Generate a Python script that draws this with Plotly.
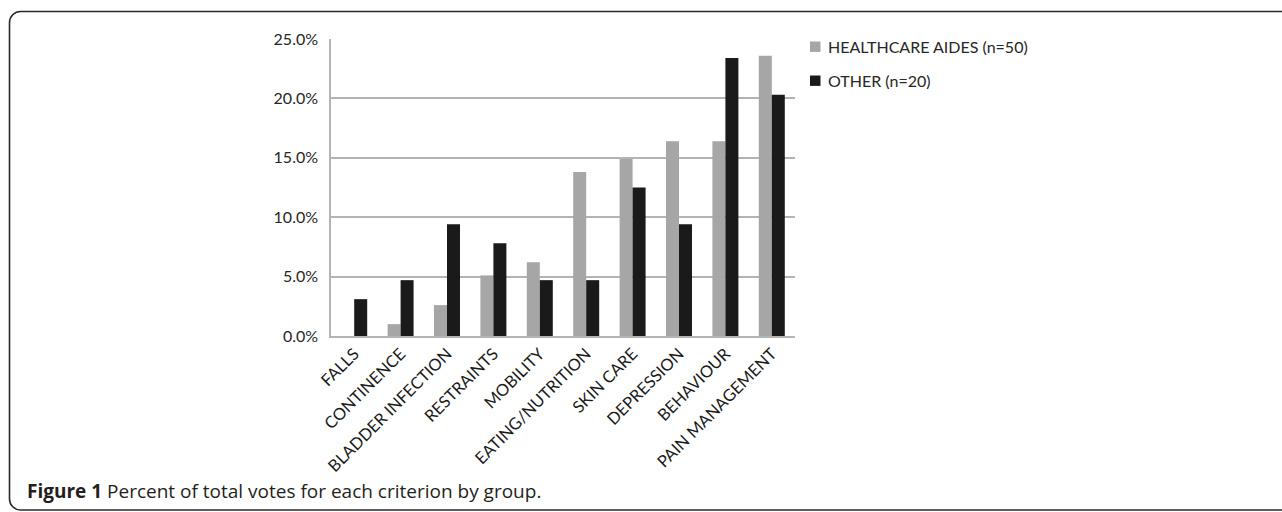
import plotly.graph_objects as go

# Criteria and the share of votes each group gave them (percent)
criteria = ["FALLS", "CONTINENCE", "BLADDER INFECTION", "RESTRAINTS", "MOBILITY",
            "EATING/NUTRITION", "SKIN CARE", "DEPRESSION", "BEHAVIOUR", "PAIN MANAGEMENT"]
healthcare_aides = [0.0, 1.0, 2.6, 5.1, 6.2, 13.8, 14.9, 16.4, 16.4, 23.6]
other_staff = [3.1, 4.7, 9.4, 7.8, 4.7, 4.7, 12.5, 9.4, 23.4, 20.3]
series_names = ["HEALTHCARE AIDES (n=50)", "OTHER (n=20)"]
series_colors = ["#a6a6a6", "#1a1a1a"]
y_ticks = [0, 5, 10, 15, 20, 25]
y_tick_labels = ["0.0%", "5.0%", "10.0%", "15.0%", "20.0%", "25.0%"]
caption_bold = "Figure 1"
caption_text = "Percent of total votes for each criterion by group."

W, H = 1282, 512
L, R, T, B = 331, 795, 39, 336  # plot area in pixels

def px(x):
    return (x - L) / (R - L)

def py(y):
    return (B - y) / (B - T)

font_main = "Lato, 'Open Sans', sans-serif"

fig = go.Figure()
for name, vals, color in zip(series_names, [healthcare_aides, other_staff], series_colors):
    fig.add_trace(go.Bar(x=criteria, y=vals, name=name,
                         marker=dict(color=color, line=dict(width=0))))

# Rounded frame around the figure and its caption
x0, x1, y0, y1, r = 9.5, 1300, 11.5, 510, 11
k = 0.45
path = (f"M {px(x0)},{py(y0 + r)} "
        f"C {px(x0)},{py(y0 + r * k)} {px(x0 + r * k)},{py(y0)} {px(x0 + r)},{py(y0)} "
        f"L {px(x1)},{py(y0)} L {px(x1)},{py(y1)} "
        f"L {px(x0 + r)},{py(y1)} "
        f"C {px(x0 + r * k)},{py(y1)} {px(x0)},{py(y1 - r * k)} {px(x0)},{py(y1 - r)} Z")
fig.add_shape(type="path", path=path, xref="paper", yref="paper",
              line=dict(color="#2b2b2b", width=1.6), fillcolor="rgba(0,0,0,0)", layer="below")

# Legend: small square swatch followed by the series name
legend_rows = [46.7, 80.7]
for name, color, yc in zip(series_names, series_colors, legend_rows):
    fig.add_shape(type="rect", xref="paper", yref="paper",
                  x0=px(810), x1=px(820.5), y0=py(yc + 5.2), y1=py(yc - 5.2),
                  fillcolor=color, line=dict(width=0))
    fig.add_annotation(x=px(826), y=py(yc), xref="paper", yref="paper",
                       xanchor="left", yanchor="middle", showarrow=False,
                       text=name, font=dict(family=font_main, size=16, color="#262626"))

fig.add_annotation(x=px(25), y=py(491), xref="paper", yref="paper",
                   xanchor="left", yanchor="middle", showarrow=False,
                   text=f"<b>{caption_bold}</b> {caption_text}",
                   font=dict(family="'Open Sans', sans-serif", size=19, color="#231f20"))

fig.update_layout(
    width=W, height=H,
    margin=dict(l=L, r=W - R, t=T, b=H - B, pad=0),
    paper_bgcolor="white", plot_bgcolor="white",
    barmode="group", bargap=0.44, bargroupgap=0.0,
    font=dict(family=font_main, size=15, color="#262626"),
    showlegend=False,
)
fig.update_xaxes(type="category", tickangle=-45, showgrid=False,
                 showline=True, linecolor="#b4b4b4", linewidth=1.5,
                 ticks="", tickfont=dict(size=16.5, color="#1a1a1a"))
fig.update_yaxes(range=[0, 25], tickvals=y_ticks, ticktext=y_tick_labels,
                 showgrid=True, gridcolor="#b4b4b4", gridwidth=1.5,
                 showline=True, linecolor="#b4b4b4", linewidth=1.5,
                 ticks="", ticklabelstandoff=8, zeroline=False,
                 tickfont=dict(size=16, color="#262626"))

fig.write_html("out.html")
